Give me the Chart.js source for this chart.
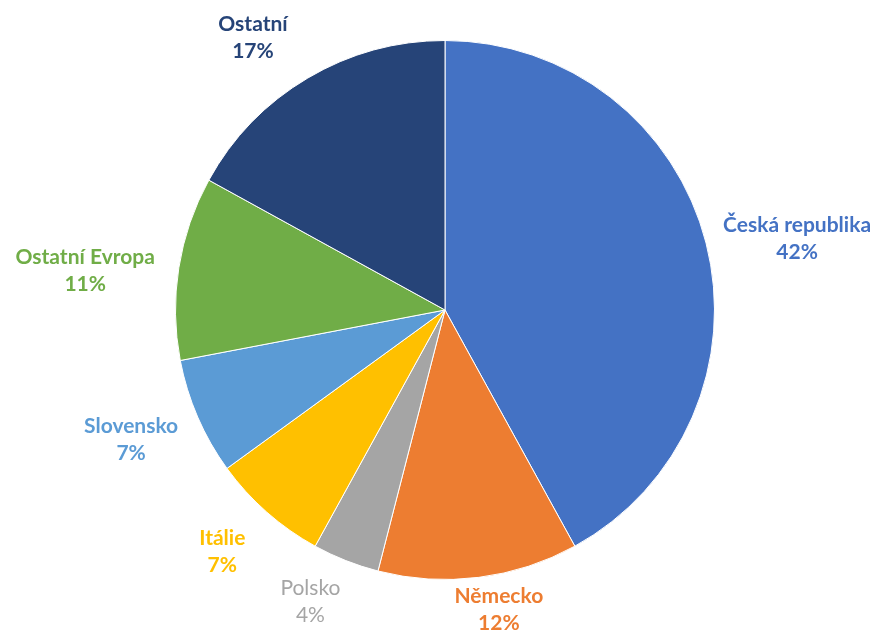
<!DOCTYPE html>
<html lang="cs">
<head>
  <meta charset="UTF-8">
  <title>Pie</title>
  <style>
    html, body { margin: 0; padding: 0; background: #fff; }
    #wrap { width: 884px; height: 632px; }
  </style>
</head>
<body>
  <div id="wrap"><canvas id="pieChart" width="884" height="632"></canvas></div>
  <script src="https://cdn.jsdelivr.net/npm/chart.js"></script>
  <script>
    // data, clockwise from 12 o'clock
    const categories = ['Česká republika', 'Německo', 'Polsko', 'Itálie', 'Slovensko', 'Ostatní Evropa', 'Ostatní']
    const shares = [42, 12, 4, 7, 7, 11, 17]

    // styling
    const colors = ['#4472C4', '#ED7D31', '#A5A5A5', '#FFC000', '#5B9BD5', '#70AD47', '#264478']
    const boldLabel = [true, true, false, true, true, true, true]
    // small best-fit shifts of the label boxes, like Excel does
    const labelNudge = [[0, 7], [12, -14], [-17, -3], [-16, 4], [-5, 4], [-5, 10], [-27, 0]]

    // labels outside the pie, pushed away from the edge of each slice
    const outsideLabels = {
      id: 'outsideLabels',
      afterDatasetsDraw(chart) {
        const ctx = chart.ctx
        const meta = chart.getDatasetMeta(0)
        const gap = 20
        const lineH = 27
        ctx.save()
        ctx.textAlign = 'center'
        ctx.textBaseline = 'middle'
        meta.data.forEach((arc, i) => {
          const p = arc.getProps(['x', 'y', 'startAngle', 'endAngle', 'outerRadius'], true)
          const mid = (p.startAngle + p.endAngle) / 2
          const cos = Math.cos(mid), sin = Math.sin(mid)
          ctx.font = (boldLabel[i] ? 'bold ' : '') + '21px Lato'
          const l1 = categories[i]
          const l2 = shares[i] + '%'
          const w = Math.max(ctx.measureText(l1).width, ctx.measureText(l2).width)
          const h = lineH * 2
          const ax = p.x + cos * (p.outerRadius + gap)
          const ay = p.y + sin * (p.outerRadius + gap)
          const cx = ax + cos * w / 2 + labelNudge[i][0]
          const cy = ay + sin * h / 2 + labelNudge[i][1]
          ctx.fillStyle = colors[i]
          ctx.fillText(l1, cx, cy - lineH / 2)
          ctx.fillText(l2, cx, cy + lineH / 2)
        })
        ctx.restore()
      }
    }

    new Chart(document.getElementById('pieChart'), {
      type: 'pie',
      data: {
        labels: categories,
        datasets: [{
          data: shares,
          backgroundColor: colors,
          borderColor: '#ffffff',
          borderWidth: 1
        }]
      },
      options: {
        responsive: false,
        animation: false,
        layout: { padding: { top: 40, bottom: 52, left: 6, right: 0 } },
        plugins: {
          legend: { display: false },
          tooltip: { enabled: false }
        }
      },
      plugins: [outsideLabels]
    })
  </script>
</body>
</html>
